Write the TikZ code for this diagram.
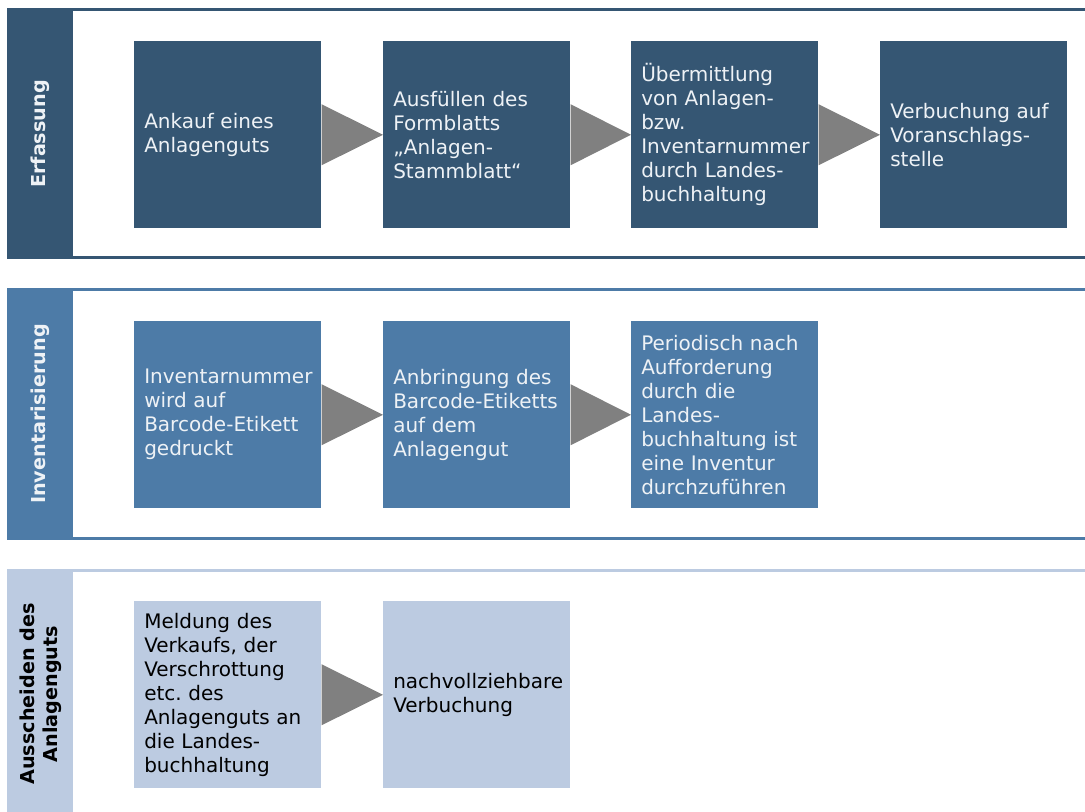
\documentclass[tikz,border=0pt]{standalone}
\usepackage{fontspec}
\setmainfont{DejaVu Sans}
\frenchspacing
\definecolor{laneA}{HTML}{355673}
\definecolor{laneB}{HTML}{4D7BA7}
\definecolor{laneC}{HTML}{BCCBE1}
\definecolor{arrowgray}{HTML}{808080}
\definecolor{boxtext}{HTML}{EEF2F6}
\begin{document}
\begin{tikzpicture}[x=0.75pt, y=-0.75pt,
  box/.style={shape=rectangle, anchor=north west, minimum width=140.25pt, minimum height=140.25pt, text width=125.25pt, inner xsep=7.5pt, align=left, font=\fontsize{15}{18}\selectfont},
  lanetitle/.style={rotate=90, align=center, font=\fontsize{14.4}{17.25}\selectfont\bfseries},
  tri/.style={fill=arrowgray}]
\clip (0,0) rectangle (1085,812);
\draw[laneA, line width=2.25pt] (8,10) rectangle (1100,258);
\fill[laneA] (8,9) rectangle (73,259);
\draw[laneB, line width=2.25pt] (8,290) rectangle (1100,538);
\fill[laneB] (8,289) rectangle (73,539);
\draw[laneC, line width=2.25pt] (8,570) rectangle (1100,818);
\fill[laneC] (8,569) rectangle (73,819);
\node[lanetitle, text=boxtext] (t1) at (40.5,134) {Erfassung};
\node[lanetitle, text=boxtext] (t2) at (40.5,414) {Inventarisierung};
\node[lanetitle, text=black] (t3) at (40.5,694) {Ausscheiden des\\Anlagenguts};
\node[box, fill=laneA, text=boxtext] (e1) at (134,41) {Ankauf eines\\Anlagenguts};
\node[box, fill=laneA, text=boxtext] (e2) at (383,41) {Ausfüllen des\\Formblatts\\„Anlagen-\\Stammblatt“};
\node[box, fill=laneA, text=boxtext] (e3) at (631,41) {Übermittlung\\von Anlagen-\\bzw.\\Inventarnummer\\durch Landes-\\buchhaltung};
\node[box, fill=laneA, text=boxtext] (e4) at (880,41) {Verbuchung auf\\Voranschlags-\\stelle};
\node[box, fill=laneB, text=boxtext] (i1) at (134,321) {Inventarnummer\\wird auf\\Barcode-Etikett\\gedruckt};
\node[box, fill=laneB, text=boxtext] (i2) at (383,321) {Anbringung des\\Barcode-Etiketts\\auf dem\\Anlagengut};
\node[box, fill=laneB, text=boxtext] (i3) at (631,321) {Periodisch nach\\Aufforderung\\durch die\\Landes-\\buchhaltung ist\\eine Inventur\\durchzuführen};
\node[box, fill=laneC, text=black] (a1) at (134,601) {Meldung des\\Verkaufs, der\\Verschrottung\\etc. des\\Anlagenguts an\\die Landes-\\buchhaltung};
\node[box, fill=laneC, text=black] (a2) at (383,601) {nachvollziehbare\\Verbuchung};
\fill[tri] ([yshift=22.9pt]e1.east) -- (e2.west) -- ([yshift=-22.9pt]e1.east) -- cycle;
\fill[tri] ([yshift=22.9pt]e2.east) -- (e3.west) -- ([yshift=-22.9pt]e2.east) -- cycle;
\fill[tri] ([yshift=22.9pt]e3.east) -- (e4.west) -- ([yshift=-22.9pt]e3.east) -- cycle;
\fill[tri] ([yshift=22.9pt]i1.east) -- (i2.west) -- ([yshift=-22.9pt]i1.east) -- cycle;
\fill[tri] ([yshift=22.9pt]i2.east) -- (i3.west) -- ([yshift=-22.9pt]i2.east) -- cycle;
\fill[tri] ([yshift=22.9pt]a1.east) -- (a2.west) -- ([yshift=-22.9pt]a1.east) -- cycle;
\end{tikzpicture}
\end{document}
